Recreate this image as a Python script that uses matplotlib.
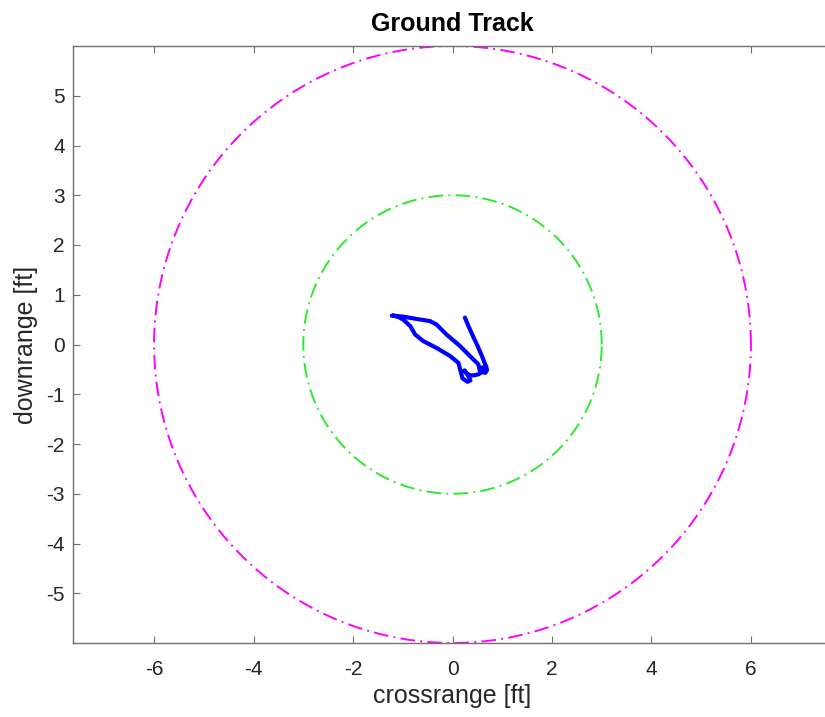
import numpy as np
import matplotlib
matplotlib.use("Agg")
import matplotlib.pyplot as plt

plt.rcParams['font.family'] = ['Liberation Sans', 'DejaVu Sans']
plt.rcParams['axes.unicode_minus'] = False

# Data
ring_radii = [6.0, 3.0]
ring_colors = ['#ff00ff', '#2ee82e']
track_x = [0.25, 0.33, 0.42, 0.50, 0.57, 0.63, 0.68, 0.69, 0.66, 0.60, 0.58, 0.64, 0.60,
           0.52, 0.43, 0.35, 0.28, 0.24, 0.30, 0.36, 0.30, 0.20, 0.12, -0.05, -0.32,
           -0.59, -0.75, -0.85, -0.99, -1.08, -1.18, -1.22, -1.10, -0.99, -0.70, -0.45,
           -0.32, -0.12, 0.15, 0.35, 0.52, 0.55, 0.62, 0.68, 0.66]
track_y = [0.54, 0.35, 0.15, -0.02, -0.18, -0.33, -0.45, -0.52, -0.57, -0.55, -0.47, -0.45, -0.55,
           -0.60, -0.62, -0.62, -0.58, -0.52, -0.60, -0.72, -0.75, -0.68, -0.37, -0.23, -0.07,
           0.07, 0.20, 0.37, 0.50, 0.55, 0.58, 0.58, 0.57, 0.56, 0.51, 0.47,
           0.40, 0.20, -0.03, -0.23, -0.40, -0.53, -0.55, -0.50, -0.46]
xticks = [-6, -4, -2, 0, 2, 4, 6]
yticks = [-5, -4, -3, -2, -1, 0, 1, 2, 3, 4, 5]

fig = plt.figure(figsize=(8.25, 7.17), dpi=100)
ax = fig.add_axes([73/825, 74/717, 759/825, 597/717])

theta = np.linspace(0, 2*np.pi, 600)
lw = 1.4
for r, c in zip(ring_radii, ring_colors):
    ax.plot(r*np.cos(theta), r*np.sin(theta), color=c, linewidth=lw,
            linestyle=(0, (10.5/lw, 3.8/lw, 1.4/lw, 3.8/lw)))

ax.plot(track_x, track_y, color='#0000ff', linewidth=3.0, solid_capstyle='round',
        solid_joinstyle='round')

ax.set_xlim(-7.63, 7.63)
ax.set_ylim(-6, 6)
ax.set_xticks(xticks)
ax.set_yticks(yticks)
ax.tick_params(direction='in', length=5, width=0.8, top=True, right=True,
               labelsize=15, colors='#707070', labelcolor='#262626', pad=6)
ax.tick_params(axis='x', pad=12)
for s in ax.spines.values():
    s.set_color('#707070')
    s.set_linewidth(1.0)

ax.set_title('Ground Track', fontsize=18, fontweight='bold', color='#000000', pad=11)
ax.set_xlabel('crossrange [ft]', fontsize=18, color='#262626', labelpad=4)
ax.set_ylabel('downrange [ft]', fontsize=18, color='#262626', labelpad=6)

fig.savefig('out.png', dpi=100)
